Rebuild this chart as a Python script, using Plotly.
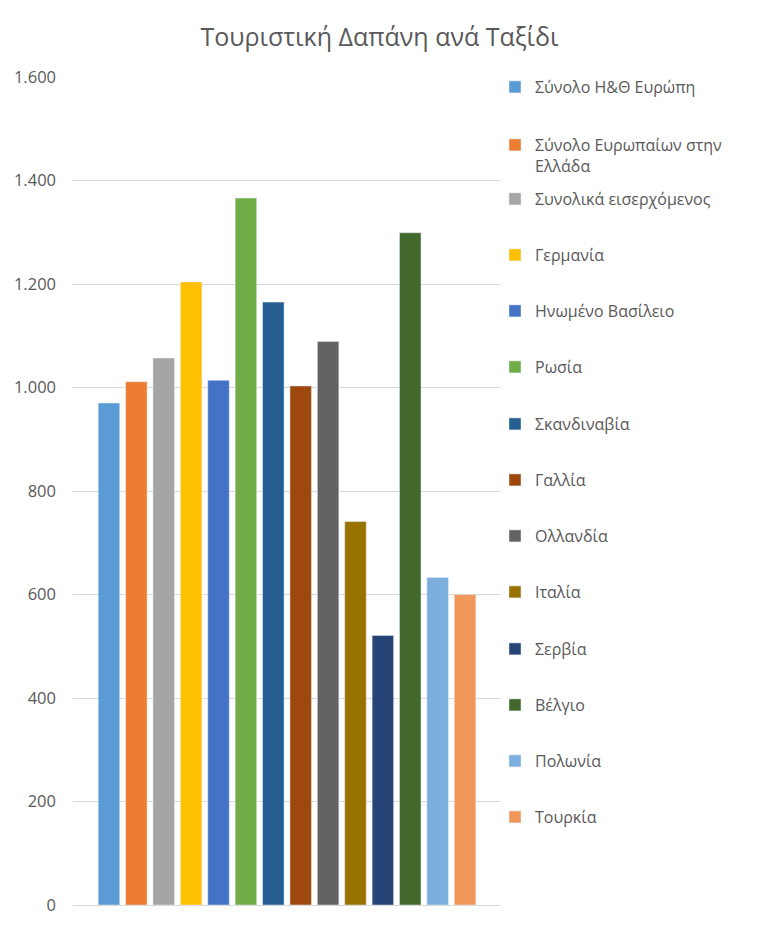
import plotly.graph_objects as go

series_names = [
    "Σύνολο Η&Θ Ευρώπη",
    "Σύνολο Ευρωπαίων στην<br>Ελλάδα",
    "Συνολικά εισερχόμενος",
    "Γερμανία",
    "Ηνωμένο Βασίλειο",
    "Ρωσία",
    "Σκανδιναβία",
    "Γαλλία",
    "Ολλανδία",
    "Ιταλία",
    "Σερβία",
    "Βέλγιο",
    "Πολωνία",
    "Τουρκία",
]
values = [970, 1011, 1057, 1204, 1014, 1366, 1165, 1003, 1089, 741, 521, 1299, 633, 600]
colors = [
    "#5B9BD5", "#ED7D31", "#A5A5A5", "#FFC000", "#4472C4", "#70AD47", "#255E91",
    "#9E480E", "#636363", "#997300", "#264478", "#43682B", "#7CAFDD", "#F1975A",
]
category = [""]
y_ticks = [0, 200, 400, 600, 800, 1000, 1200, 1400, 1600]

# the page body has an 8px default margin; compensate so the plot sits where intended
OFF = 8
W, H = 759, 928
PL, PT = 73, 77          # plot area top-left in page pixels
plot_w, plot_h = 428, 828
L, T = PL - OFF, PT - OFF
R = W - L - plot_w
B = H - T - plot_h

# legend entry centre rows (page pixels from top)
legend_rows = [87, 143, 199, 255, 311, 367, 424, 480, 536, 592, 649, 705, 761, 817]

fig = go.Figure()
layout_legends = {}
for i, (name, v, c) in enumerate(zip(series_names, values, colors)):
    lname = "legend" if i == 0 else f"legend{i+1}"
    fig.add_trace(go.Bar(
        x=category, y=[v], name=name, marker_color=c,
        legend=lname, hovertemplate="%{y}<extra>" + name + "</extra>",
    ))
    py = legend_rows[i]
    multi = "<br>" in name
    layout_legends[lname] = dict(
        x=(495 - PL) / plot_w,
        xanchor="left",
        y=(PT + plot_h - py) / plot_h if not multi else (PT + plot_h - py + 15) / plot_h,
        yanchor="middle" if not multi else "top",
        valign="top",
        font=dict(family="Open Sans, sans-serif", size=16, color="#595959"),
        bgcolor="rgba(0,0,0,0)",
        borderwidth=0,
        tracegroupgap=0,
    )

fig.update_layout(
    width=W, height=H,
    margin=dict(l=L, r=R, t=T, b=B, autoexpand=False),
    paper_bgcolor="white",
    plot_bgcolor="white",
    separators=",.",
    title=dict(
        text="Τουριστική Δαπάνη ανά Ταξίδι",
        x=(379.5 - OFF) / W, xanchor="center", y=1 - (37 - OFF) / H, yanchor="middle",
        font=dict(family="Open Sans, sans-serif", size=25, color="#595959"),
    ),
    barmode="group",
    bargap=0.104,
    bargroupgap=0.215,
    showlegend=True,
    xaxis=dict(
        showticklabels=False, showgrid=False, zeroline=False, automargin=False,
        showline=True, linecolor="#D9D9D9", linewidth=1, ticks="",
    ),
    yaxis=dict(
        range=[0, 1600], tickvals=y_ticks, tickformat=",d", automargin=False,
        showgrid=True, gridcolor="#D9D9D9", gridwidth=1,
        zeroline=False, showline=False, ticks="", ticklabelstandoff=16,
        tickfont=dict(family="Open Sans, sans-serif", size=16.5, color="#595959"),
    ),
    **layout_legends,
)

fig.write_html("out.html")
